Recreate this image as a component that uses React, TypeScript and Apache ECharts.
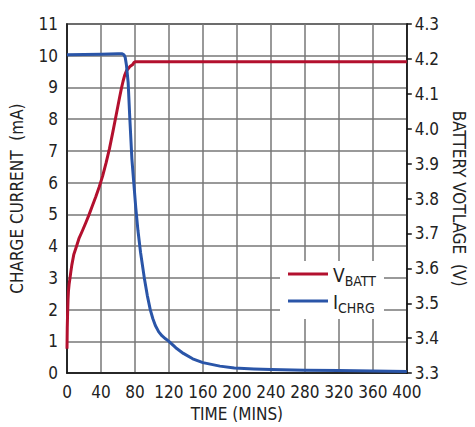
import React, { useEffect, useRef } from "react";
import * as echarts from "echarts";

const timeTicks = [0, 40, 80, 120, 160, 200, 240, 280, 320, 360, 400];

// ICHRG (mA) vs time (min)
const chrgTime = [0, 20, 40, 60, 65, 67, 68.5, 70, 72, 74, 76.4, 78.6, 81, 83.5, 86.6, 91, 94.5, 98, 101, 104, 108, 112, 116, 120, 128, 137, 148, 160, 180, 197, 220, 240, 280, 320, 360, 400];
const chrgMA = [10.03, 10.04, 10.05, 10.06, 10.06, 10.03, 9.95, 9.7, 9.15, 8.0, 6.74, 6.0, 5.2, 4.5, 3.8, 3.0, 2.45, 2.0, 1.72, 1.5, 1.3, 1.17, 1.08, 1.0, 0.8, 0.62, 0.45, 0.33, 0.22, 0.16, 0.13, 0.11, 0.09, 0.08, 0.07, 0.05];

// VBATT (V) vs time (min)
const battTime = [0, 0.3, 0.7, 1.2, 1.7, 2.5, 3.4, 4.5, 5.7, 8, 11.4, 14, 18, 22, 26, 30, 34, 38, 42, 46, 50, 54, 58, 62, 64, 66, 68, 70, 72, 74, 77, 79, 81, 120, 200, 300, 400];
const battV = [3.37, 3.43, 3.47, 3.51, 3.535, 3.555, 3.57, 3.59, 3.61, 3.64, 3.665, 3.685, 3.707, 3.73, 3.754, 3.78, 3.806, 3.834, 3.865, 3.902, 3.943, 3.991, 4.041, 4.091, 4.115, 4.136, 4.154, 4.166, 4.172, 4.178, 4.183, 4.19, 4.192, 4.192, 4.192, 4.192, 4.192];

const FONT = "'DejaVu Sans Condensed', 'Liberation Sans Narrow', 'Liberation Sans', Arial, sans-serif";
const RED = "#b3102e";
const BLUE = "#2a55a8";

export default function App() {
  const ref = useRef<HTMLDivElement>(null);
  useEffect(() => {
    if (!ref.current) return;
    const chart = echarts.init(ref.current, null, { renderer: "svg" });
    const axisText = { color: "#222", fontFamily: FONT, fontSize: 17 };
    chart.setOption({
      animation: false,
      backgroundColor: "#fff",
      grid: {
        left: 67,
        right: 57,
        top: 24,
        bottom: 52,
        show: true,
        borderColor: "#111",
        borderWidth: 1.5,
      },
      legend: {
        orient: "vertical",
        left: 280,
        top: 261,
        backgroundColor: "#fff",
        padding: [4, 8, 4, 8],
        itemWidth: 40,
        itemHeight: 3,
        itemGap: 4,
        icon: "rect",
        data: ["VBATT", "ICHRG"],
        formatter: (name: string) => `{m|${name.charAt(0)}}{s|${name.slice(1)}}`,
        textStyle: {
          rich: {
            m: { fontFamily: FONT, fontSize: 19, color: "#222", verticalAlign: "bottom", lineHeight: 20 },
            s: { fontFamily: FONT, fontSize: 14, color: "#222", verticalAlign: "bottom", lineHeight: 14, padding: [0, 0, -4, 0] },
          },
        },
      },
      xAxis: {
        type: "value",
        min: 0,
        max: 400,
        interval: 40,
        name: "TIME (MINS)",
        nameLocation: "middle",
        nameGap: 30,
        nameTextStyle: { color: "#222", fontFamily: FONT, fontSize: 17 },
        axisLine: { show: true, lineStyle: { color: "#111", width: 1.5 } },
        axisTick: { show: false },
        axisLabel: { ...axisText, margin: 10, customValues: timeTicks },
        splitLine: { show: true, lineStyle: { color: "#777", width: 1.5 } },
      },
      yAxis: [
        {
          type: "value",
          min: 0,
          max: 11,
          interval: 1,
          name: "CHARGE CURRENT  (mA)",
          nameLocation: "middle",
          nameGap: 42,
          nameRotate: 90,
          nameTextStyle: { color: "#222", fontFamily: FONT, fontSize: 17 },
          axisLine: { show: true, lineStyle: { color: "#111", width: 1.5 } },
          axisTick: { show: false },
          axisLabel: { ...axisText, margin: 9 },
          splitLine: { show: true, lineStyle: { color: "#777", width: 1.5 } },
        },
        {
          type: "value",
          position: "right",
          min: 3.3,
          max: 4.3,
          interval: 0.1,
          name: "BATTERY VOTLAGE  (V)",
          nameLocation: "middle",
          nameGap: 35,
          nameRotate: -90,
          nameTextStyle: { color: "#222", fontFamily: FONT, fontSize: 17 },
          axisLine: { show: true, lineStyle: { color: "#111", width: 1.5 } },
          axisTick: { show: true, inside: false, length: 5, lineStyle: { color: "#111", width: 1.5 } },
          axisLabel: { ...axisText, margin: 8, formatter: (v: number) => v.toFixed(1) },
          splitLine: { show: false },
        },
      ],
      series: [
        {
          name: "VBATT",
          type: "line",
          yAxisIndex: 1,
          showSymbol: false,
          color: RED,
          lineStyle: { color: RED, width: 3, join: "round" },
          data: battTime.map((t, i) => [t, battV[i]]),
          z: 3,
        },
        {
          name: "ICHRG",
          type: "line",
          yAxisIndex: 0,
          showSymbol: false,
          color: BLUE,
          lineStyle: { color: BLUE, width: 3, join: "round" },
          data: chrgTime.map((t, i) => [t, chrgMA[i]]),
          z: 4,
        },
      ],
    });
    return () => chart.dispose();
  }, []);
  return (
    <div
      ref={ref}
      style={{ position: "fixed", left: 0, top: 0, width: 475, height: 427 }}
    />
  );
}
